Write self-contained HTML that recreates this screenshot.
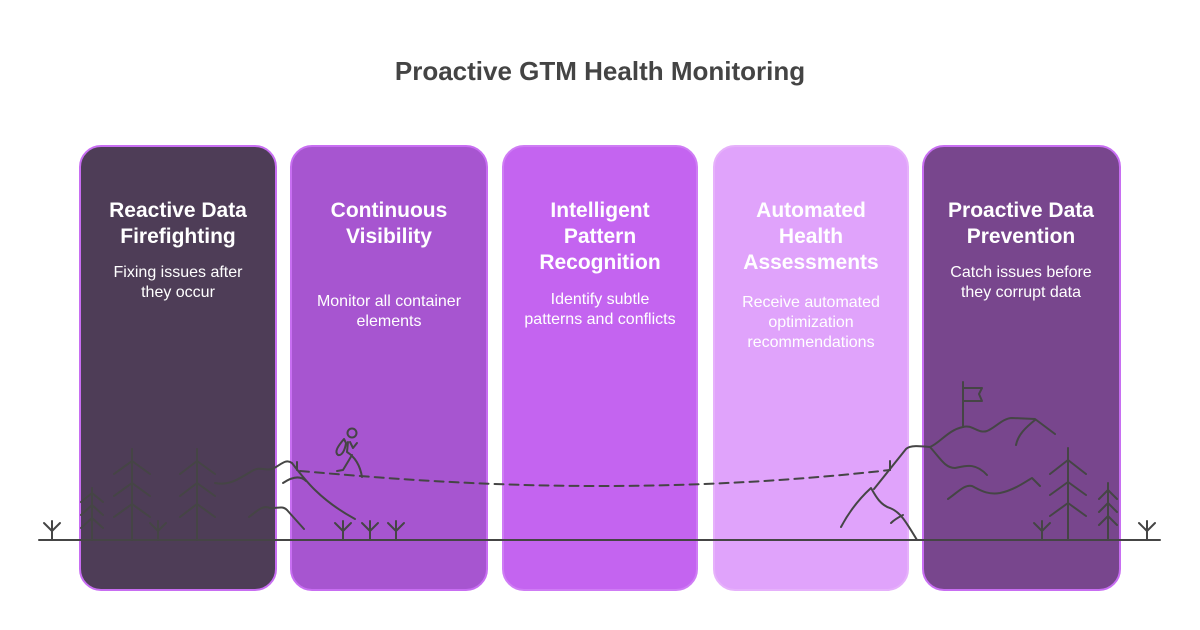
<!DOCTYPE html>
<html><head><meta charset="utf-8"><style>
body{margin:0;width:1200px;height:630px;background:#fff;position:relative;overflow:hidden;font-family:"Liberation Sans",Arial,sans-serif}
.card{position:absolute;top:145px;height:446px;border-radius:22px;box-sizing:border-box;border:2px solid #c86ef2}
.t{position:absolute;width:240px;text-align:center;color:#fff;font-weight:bold;font-size:21px;line-height:26px}
.d{position:absolute;width:240px;text-align:center;color:#fff;font-size:16px;line-height:20px}
</style></head><body>
<div style="position:absolute;top:56px;width:1200px;text-align:center;font-size:26px;font-weight:bold;color:#444">Proactive GTM Health Monitoring</div>
<div class="card" style="left:79px;width:198px;background:#4e3d57"></div>
<div class="card" style="left:290px;width:198px;background:#a755d0"></div>
<div class="card" style="left:502px;width:196px;background:#c464f0;border-color:#cf7cf5"></div>
<div class="card" style="left:713px;width:196px;background:#e0a3fb;border-color:#e6b1fb"></div>
<div class="card" style="left:922px;width:199px;background:#78468d"></div>

<div class="t" style="left:58px;top:198px">Reactive Data<br>Firefighting</div>
<div class="d" style="left:58px;top:263px">Fixing issues after<br>they occur</div>
<div class="t" style="left:269px;top:198px">Continuous<br>Visibility</div>
<div class="d" style="left:269px;top:292px">Monitor all container<br>elements</div>
<div class="t" style="left:480px;top:198px">Intelligent<br>Pattern<br>Recognition</div>
<div class="d" style="left:480px;top:290px">Identify subtle<br>patterns and conflicts</div>
<div class="t" style="left:691px;top:198px">Automated<br>Health<br>Assessments</div>
<div class="d" style="left:691px;top:293px">Receive automated<br>optimization<br>recommendations</div>
<div class="t" style="left:901px;top:198px">Proactive Data<br>Prevention</div>
<div class="d" style="left:901px;top:263px">Catch issues before<br>they corrupt data</div>

<svg width="1200" height="630" style="position:absolute;left:0;top:0" fill="none" stroke="#454545" stroke-width="2" stroke-linecap="round" stroke-linejoin="round">
<line x1="39" y1="540" x2="1160" y2="540"/>
<defs><g id="sp"><path d="M0 0V-19M-8-17L0-9L8-17"/></g></defs>
<use href="#sp" x="52" y="540"/><use href="#sp" x="158" y="540"/>
<use href="#sp" x="343" y="540"/><use href="#sp" x="370" y="540"/><use href="#sp" x="396" y="540"/>
<use href="#sp" x="1042" y="540"/><use href="#sp" x="1147" y="540"/>
<path d="M92 540V488M81 502L92 493L103 502M81 515L92 505L103 515M81 528L92 518L103 528"/>
<path d="M132 540V449M114 474L132 461L150 474M114 496L132 483L150 496M114 517L132 504L150 517"/>
<path d="M197 540V449M180 474L197 461L215 474M180 496L197 483L215 496M180 517L197 504L215 517"/>
<path d="M215 483C230 486 240 478 252 471C260 466 265 471 272 469C280 466 285 458 292 463C305 480 320 500 355 519"/>
<path d="M283 483C292 477 300 475 306 481"/>
<path d="M297 462V470"/>
<path d="M249 517C258 510 263 505 270 508C276 509 282 505 287 510L304 529"/>
<circle cx="352" cy="433" r="4.5"/>
<path d="M348 442L347 452C355 457 360 465 362 477M352 455L343 470L337 471M350 442L353 448L357 443M344 439C338 446 334 452 338 455C342 456 345 450 346 443Z"/>
<path d="M300 471C380 478 480 486 600 486C720 486 820 478 890 470" stroke-dasharray="9 6"/>
<path d="M890 461V470"/>
<path d="M841 527C850 510 860 498 871 488C875 495 880 505 890 508C900 512 905 520 917 540"/>
<path d="M891 523C895 519 899 517 903 515"/>
<path d="M874 489L906 449C910 445 920 446 930 447C940 443 948 430 963 427C972 424 978 434 987 431C995 428 1003 418 1012 418L1035 419L1055 434"/>
<path d="M1035 420C1025 428 1018 435 1016 445"/>
<path d="M930 447C940 458 945 468 955 468C965 466 975 462 987 475"/>
<path d="M948 499C958 492 965 484 972 486C980 490 987 495 1000 493C1015 490 1028 480 1032 478L1040 486"/>
<path d="M963 427V382M963 388H982L979 394L982 401H963"/>
<path d="M1068 540V448M1050 474L1068 460L1086 474M1050 495L1068 482L1086 495M1050 516L1068 503L1086 516"/>
<path d="M1108 540V483M1099 499L1108 490L1117 499M1099 512L1108 503L1117 512M1099 525L1108 516L1117 525"/>
</svg>
</body></html>
